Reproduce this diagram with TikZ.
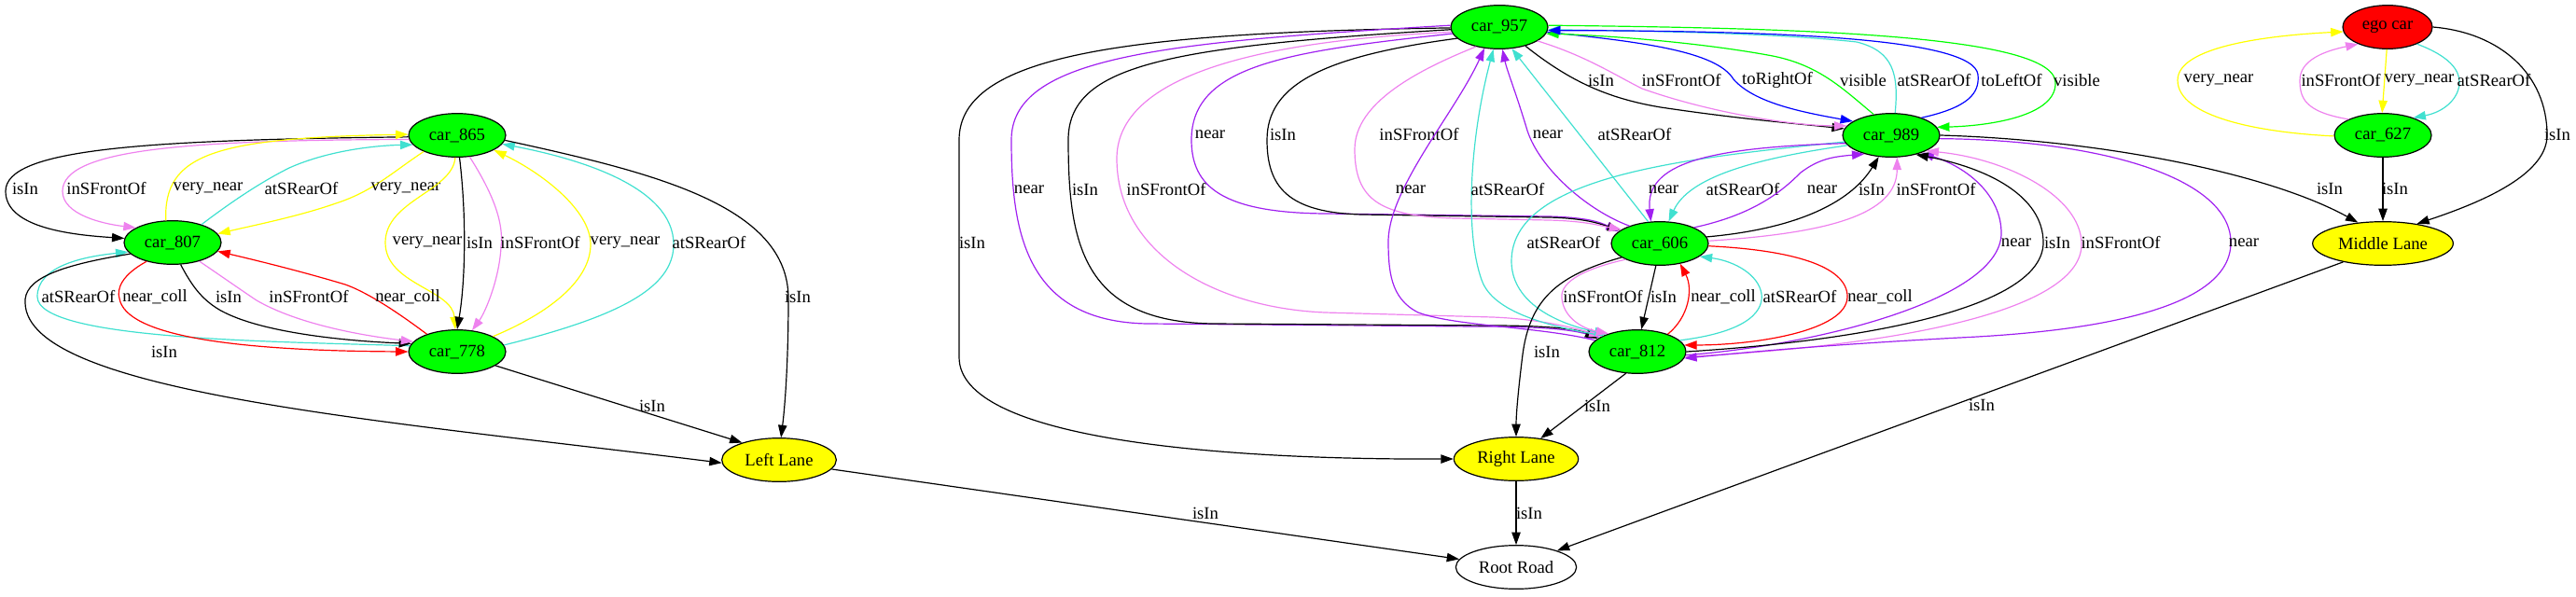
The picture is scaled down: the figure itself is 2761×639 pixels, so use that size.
\documentclass[tikz,border=0pt]{standalone}
\usepackage{fontspec}
\setmainfont{Liberation Serif}
\usepackage{tikz}
\usetikzlibrary{arrows.meta, shapes.geometric}
\definecolor{gvgreen}{HTML}{00FF00}
\definecolor{gvyellow}{HTML}{FFFF00}
\definecolor{gvred}{HTML}{FF0000}
\definecolor{gvblue}{HTML}{0000FF}
\definecolor{gvviolet}{HTML}{EE82EE}
\definecolor{gvpurple}{HTML}{A020F0}
\definecolor{gvturq}{HTML}{40E0D0}
\tikzset{
  obj/.style={ellipse, draw=black, line width=0.9pt, inner sep=0pt,
              minimum width=78pt, minimum height=35pt, font=\fontsize{14}{16}\selectfont},
  car/.style={obj, fill=gvgreen},
  lane/.style={obj, fill=gvyellow},
  rel/.style={-{Triangle[length=10pt,width=7pt]}, line width=0.9pt},
  lbl/.style={text=black, inner sep=0pt, font=\fontsize{14}{16}\selectfont},
}

\begin{document}
\begin{tikzpicture}[x=0.75pt, y=0.75pt]
  \useasboundingbox (0,0) rectangle (2761,-639);
  % objects
  \node[car] (c865) at (490,-145) {car\_865};
  \node[car] (c807) at (185,-260) {car\_807};
  \node[car] (c778) at (490,-377) {car\_778};
  \node[lane, minimum width=92pt] (lleft) at (835,-493) {Left Lane};
  \node[car] (c957) at (1607,-29) {car\_957};
  \node[car] (c989) at (2027,-145) {car\_989};
  \node[car] (c606) at (1779,-261) {car\_606};
  \node[car] (c812) at (1755,-377) {car\_812};
  \node[lane, minimum width=100pt] (lright) at (1625,-492) {Right Lane};
  \node[obj, minimum width=97pt] (root) at (1625,-608) {Root Road};
  \node[obj, fill=gvred, minimum width=72pt] (ego) at (2559,-29) {ego car};
  \node[car] (c627) at (2554,-145) {car\_627};
  \node[lane, minimum width=113pt] (mlane) at (2554,-261) {Middle Lane};

  % left cluster
  \draw[rel] (c865.182) .. controls (150,-150) and (6,-160) .. (6,-205) .. controls (6,-245) and (80,-252) .. (c807.175) node[lbl] at (27,-202) {isIn};
  \draw[rel, gvviolet] (c865.185) .. controls (200,-150) and (67,-160) .. (67,-205) .. controls (67,-230) and (110,-240) .. (c807.158) node[lbl] at (114,-202) {inSFrontOf};
  \draw[rel, gvyellow] (c807.107) .. controls (175,-165) and (230,-148) .. (c865.179) node[lbl] at (223,-202) {very\_near};
  \draw[rel, gvturq] (c807.32) .. controls (250,-215) and (280,-195) .. (310,-180) .. controls (350,-162) and (400,-156) .. (c865.192) node[lbl] at (323,-202) {atSRearOf};
  \draw[rel, gvyellow] (c865.206) .. controls (420,-185) and (400,-205) .. (360,-218) .. controls (320,-232) and (270,-242) .. (c807.11) node[lbl] at (435,-202) {very\_near};
  \draw[rel, gvyellow] (c865.265) .. controls (485,-205) and (413,-215) .. (413,-260) .. controls (413,-305) and (485,-310) .. (c778.95) node[lbl] at (458,-260) {very\_near};
  \draw[rel] (c865.-84) .. controls (500,-230) and (499,-300) .. (c778.90) node[lbl] at (514,-260) {isIn};
  \draw[rel, gvviolet] (c865.-60) .. controls (530,-210) and (540,-240) .. (537,-265) .. controls (535,-300) and (520,-335) .. (c778.55) node[lbl] at (579,-260) {inSFrontOf};
  \draw[rel, gvyellow] (c778.23) .. controls (590,-335) and (633,-300) .. (633,-262) .. controls (633,-225) and (580,-185) .. (c865.-22) node[lbl] at (670,-260) {very\_near};
  \draw[rel, gvturq] (c778.8) .. controls (660,-340) and (722,-310) .. (722,-262) .. controls (722,-200) and (620,-170) .. (c865.-11) node[lbl] at (760,-260) {atSRearOf};
  \draw[rel] (c865.-6) .. controls (700,-185) and (845,-220) .. (845,-320) .. controls (845,-380) and (842,-430) .. (lleft.85) node[lbl] at (855,-318) {isIn};
  \draw[rel, gvturq] (c778.173) .. controls (300,-366) and (40,-365) .. (40,-318) .. controls (40,-285) and (90,-275) .. (c807.192) node[lbl] at (84,-318) {atSRearOf};
  \draw[rel, gvred] (c807.216) .. controls (130,-295) and (125,-310) .. (128,-320) .. controls (135,-360) and (250,-376) .. (c778.180) node[lbl] at (166,-318) {near\_coll};
  \draw[rel] (c807.-70) .. controls (205,-305) and (215,-320) .. (235,-332) .. controls (280,-358) and (380,-366) .. (c778.170) node[lbl] at (245,-318) {isIn};
  \draw[rel, gvviolet] (c807.-35) .. controls (240,-298) and (260,-312) .. (275,-322) .. controls (320,-348) and (390,-360) .. (c778.167) node[lbl] at (331,-318) {inSFrontOf};
  \draw[rel, gvred] (c778.150) .. controls (420,-330) and (390,-312) .. (370,-305) .. controls (320,-290) and (270,-278) .. (c807.-11) node[lbl] at (437,-318) {near\_coll};
  \draw[rel] (c807.195) .. controls (60,-285) and (25,-300) .. (27,-325) .. controls (30,-420) and (400,-450) .. (lleft.183) node[lbl] at (176,-377) {isIn};
  \draw[rel] (c778.-20) -- (lleft.155) node[lbl] at (699,-435) {isIn};
  \draw[rel] (lleft.-10) -- (root.172) node[lbl] at (1292,-550) {isIn};

  % middle cluster, from car_957 leftwards
  \draw[rel] (c957.181) .. controls (1200,-35) and (1028,-60) .. (1028,-150) -- (1028,-383) .. controls (1028,-470) and (1300,-493) .. (lright.180) node[lbl] at (1042,-260) {isIn};
  \draw[rel, gvpurple] (c957.178) .. controls (1250,-45) and (1084,-60) .. (1084,-150) .. controls (1084,-250) and (1100,-345) .. (1230,-347) -- (1580,-350) .. controls (1640,-350) and (1680,-352) .. (c812.160) node[lbl] at (1103,-203) {near};
  \draw[rel] (c957.183) .. controls (1250,-50) and (1145,-70) .. (1145,-150) .. controls (1145,-260) and (1160,-345) .. (1300,-347) -- (1600,-349) .. controls (1650,-349) and (1690,-352) .. (c812.162) node[lbl] at (1163,-203) {isIn};
  \draw[rel, gvviolet] (c957.186) .. controls (1320,-45) and (1197,-90) .. (1197,-170) .. controls (1197,-270) and (1300,-330) .. (1420,-335) -- (1600,-340) .. controls (1650,-342) and (1690,-352) .. (c812.157) node[lbl] at (1250,-203) {inSFrontOf};
  \draw[rel, gvpurple] (c957.188) .. controls (1380,-55) and (1277,-70) .. (1277,-150) .. controls (1277,-200) and (1310,-228) .. (1420,-229) -- (1660,-232) .. controls (1700,-233) and (1715,-238) .. (c606.164) node[lbl] at (1297,-144) {near};
  \draw[rel] (c957.195) .. controls (1420,-60) and (1358,-90) .. (1358,-150) .. controls (1358,-200) and (1380,-228) .. (1460,-230) -- (1660,-233) .. controls (1700,-234) and (1715,-240) .. (c606.162) node[lbl] at (1375,-144) {isIn};
  \draw[rel, gvviolet] (c957.220) .. controls (1520,-75) and (1452,-110) .. (1452,-160) .. controls (1452,-215) and (1480,-232) .. (1560,-234) -- (1660,-236) .. controls (1700,-237) and (1715,-242) .. (c606.160) node[lbl] at (1521,-144) {inSFrontOf};
  \draw[rel, gvpurple] (c812.165) .. controls (1650,-350) and (1560,-350) .. (1520,-335) .. controls (1490,-320) and (1488,-290) .. (1488,-257) .. controls (1490,-200) and (1560,-120) .. (c957.235) node[lbl] at (1512,-203) {near};
  \draw[rel, gvturq] (c812.155) .. controls (1660,-350) and (1600,-335) .. (1588,-300) .. controls (1570,-250) and (1575,-150) .. (c957.255) node[lbl] at (1616,-203) {atSRearOf};
  \draw[rel, gvpurple] (c606.150) .. controls (1700,-225) and (1650,-180) .. (1637,-140) .. controls (1625,-100) and (1615,-75) .. (c957.278) node[lbl] at (1659,-144) {near};
  \draw[rel, gvturq] (c606.118) -- (c957.300) node[lbl] at (1752,-144) {atSRearOf};
  \draw[rel, gvturq] (c989.188) .. controls (1800,-170) and (1620,-190) .. (1620,-280) .. controls (1620,-320) and (1660,-345) .. (c812.150) node[lbl] at (1676,-260) {atSRearOf};

  % car_957 <-> car_989
  \draw[rel] (c957.-36) .. controls (1680,-85) and (1720,-105) .. (1780,-115) .. controls (1860,-127) and (1920,-132) .. (c989.172) node[lbl] at (1716,-86) {isIn};
  \draw[rel, gvviolet] (c957.-20) .. controls (1700,-60) and (1730,-80) .. (1760,-95) .. controls (1830,-120) and (1920,-135) .. (c989.168) node[lbl] at (1802,-86) {inSFrontOf};
  \draw[rel, gvblue] (c957.-6) .. controls (1760,-45) and (1840,-55) .. (1858,-85) .. controls (1880,-110) and (1930,-120) .. (c989.160) node[lbl] at (1905,-86) {toRightOf};
  \draw[rel, gvgreen] (c989.130) .. controls (1975,-95) and (1950,-70) .. (1900,-60) .. controls (1820,-45) and (1720,-38) .. (c957.-8) node[lbl] at (1997,-86) {visible};
  \draw[rel, gvturq] (c989.80) .. controls (2035,-80) and (2030,-55) .. (1990,-45) .. controls (1900,-35) and (1750,-33) .. (c957.-3) node[lbl] at (2073,-86) {atSRearOf};
  \draw[rel, gvblue] (c989.30) .. controls (2110,-115) and (2122,-100) .. (2120,-80) .. controls (2115,-40) and (1900,-33) .. (c957.-4) node[lbl] at (2156,-86) {toLeftOf};
  \draw[rel, gvgreen] (c957.2) .. controls (1900,-30) and (2200,-35) .. (2203,-88) .. controls (2205,-125) and (2130,-135) .. (c989.10) node[lbl] at (2226,-86) {visible};

  % car_989 <-> car_606, car_812
  \draw[rel, gvpurple] (c989.190) .. controls (1830,-158) and (1763,-175) .. (c606.112) node[lbl] at (1783,-203) {near};
  \draw[rel, gvturq] (c989.193) .. controls (1880,-170) and (1810,-190) .. (c606.68) node[lbl] at (1868,-203) {atSRearOf};
  \draw[rel, gvpurple] (c606.25) .. controls (1880,-230) and (1910,-205) .. (1930,-185) .. controls (1950,-170) and (1965,-168) .. (c989.215) node[lbl] at (1953,-203) {near};
  \draw[rel] (c606.8) .. controls (1930,-245) and (1985,-215) .. (c989.240) node[lbl] at (2006,-203) {isIn};
  \draw[rel, gvviolet] (c606.3) .. controls (1960,-250) and (2033,-230) .. (c989.-75) node[lbl] at (2075,-203) {inSFrontOf};
  \draw[rel, gvpurple] (c812.-4) .. controls (1950,-370) and (2145,-320) .. (2145,-250) .. controls (2145,-210) and (2110,-180) .. (c989.-30) node[lbl] at (2161,-260) {near};
  \draw[rel] (c812.0) .. controls (2000,-365) and (2190,-330) .. (2190,-260) .. controls (2190,-210) and (2130,-180) .. (c989.-38) node[lbl] at (2205,-260) {isIn};
  \draw[rel, gvviolet] (c812.-6) .. controls (2050,-370) and (2231,-330) .. (2231,-262) .. controls (2231,-210) and (2150,-170) .. (c989.-24) node[lbl] at (2273,-260) {inSFrontOf};
  \draw[rel, gvpurple] (c989.-4) .. controls (2250,-150) and (2391,-190) .. (2391,-260) .. controls (2391,-330) and (2250,-355) .. (2100,-362) .. controls (1950,-370) and (1870,-378) .. (c812.-8) node[lbl] at (2405,-260) {near};
  \draw[rel] (c989.0) .. controls (2250,-150) and (2430,-185) .. (mlane.140) node[lbl] at (2497,-202) {isIn};

  % car_606 <-> car_812
  \draw[rel, gvviolet] (c606.205) .. controls (1690,-290) and (1672,-305) .. (1674,-320) .. controls (1676,-340) and (1695,-352) .. (c812.148) node[lbl] at (1718,-318) {inSFrontOf};
  \draw[rel] (c606.-100) -- (c812.80) node[lbl] at (1783,-318) {isIn};
  \draw[rel, gvred] (c812.30) .. controls (1810,-340) and (1815,-310) .. (c606.-45) node[lbl] at (1847,-318) {near\_coll};
  \draw[rel, gvturq] (c812.15) .. controls (1880,-355) and (1890,-330) .. (1888,-315) .. controls (1885,-295) and (1860,-280) .. (c606.-18) node[lbl] at (1929,-318) {atSRearOf};
  \draw[rel, gvred] (c606.-3) .. controls (1920,-268) and (1980,-285) .. (1980,-318) .. controls (1980,-355) and (1880,-370) .. (c812.8) node[lbl] at (2015,-318) {near\_coll};

  % lanes and road
  \draw[rel] (c606.200) .. controls (1670,-295) and (1640,-320) .. (1632,-380) .. controls (1627,-420) and (1625,-445) .. (lright.90) node[lbl] at (1658,-377) {isIn};
  \draw[rel] (c812.-118) -- (lright.40) node[lbl] at (1712,-435) {isIn};
  \draw[rel] (lright.-90) -- (root.90) node[lbl] at (1639,-550) {isIn};
  \draw[rel] (mlane.205) -- (root.22) node[lbl] at (2124,-434) {isIn};

  % ego car
  \draw[rel, gvyellow] (c627.181) .. controls (2420,-142) and (2334,-125) .. (2334,-86) .. controls (2334,-50) and (2430,-38) .. (ego.186) node[lbl] at (2378,-86) {very\_near};
  \draw[rel, gvviolet] (c627.155) .. controls (2470,-120) and (2465,-105) .. (2465,-86) .. controls (2465,-65) and (2490,-55) .. (ego.210) node[lbl] at (2509,-86) {inSFrontOf};
  \draw[rel, gvyellow] (ego.-92) -- (c627.92) node[lbl] at (2593,-86) {very\_near};
  \draw[rel, gvturq] (ego.-30) .. controls (2625,-60) and (2636,-75) .. (2636,-88) .. controls (2636,-105) and (2620,-120) .. (c627.30) node[lbl] at (2673,-86) {atSRearOf};
  \draw[rel] (ego.0) .. controls (2680,-35) and (2730,-80) .. (2730,-145) .. controls (2730,-190) and (2650,-220) .. (mlane.30) node[lbl] at (2741,-144) {isIn};
  \draw[rel] (c627.-90) -- (mlane.90) node[lbl] at (2567,-202) {isIn};
\end{tikzpicture}
\end{document}
